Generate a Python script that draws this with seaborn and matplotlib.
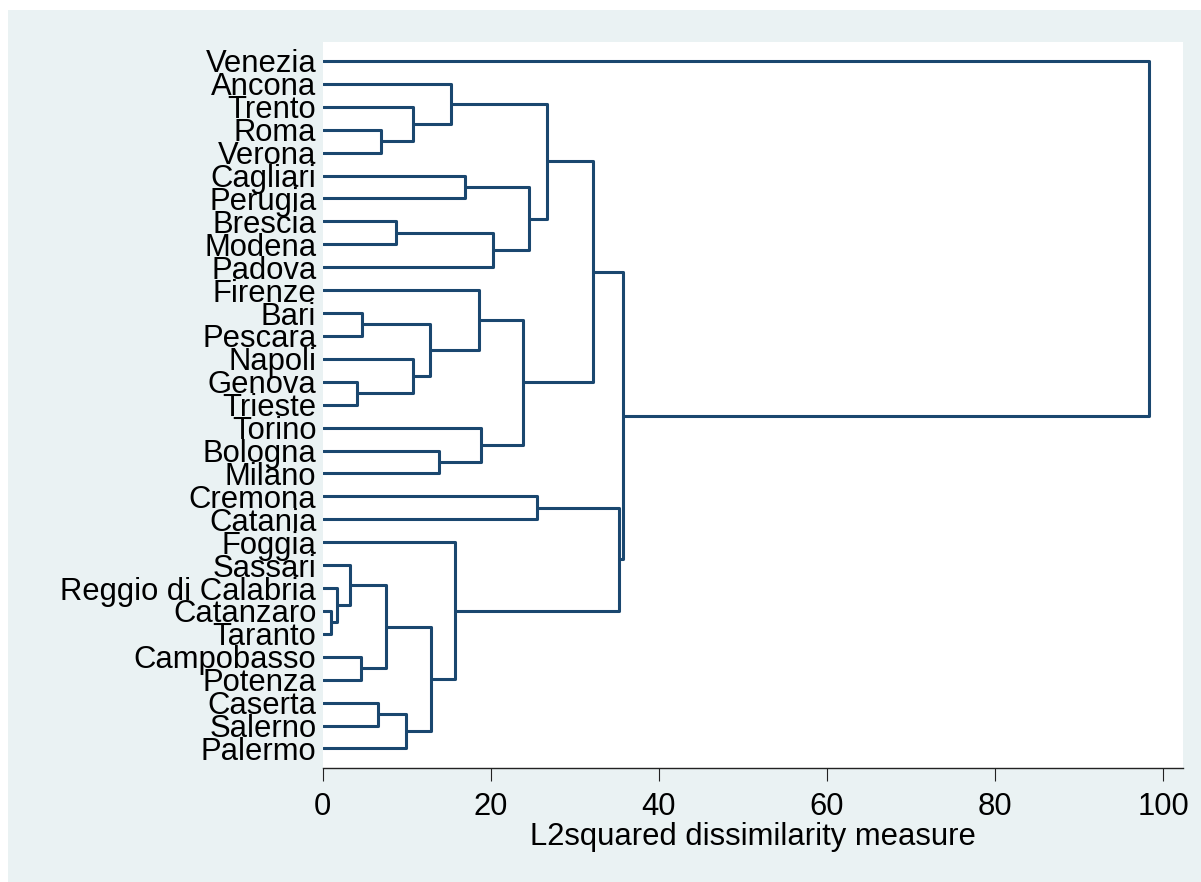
import matplotlib
matplotlib.use('Agg')
import matplotlib.pyplot as plt
from matplotlib.patches import Rectangle
import numpy as np
import pandas as pd
import seaborn as sns

leaves = ['Venezia', 'Ancona', 'Trento', 'Roma', 'Verona', 'Cagliari', 'Perugia',
          'Brescia', 'Modena', 'Padova', 'Firenze', 'Bari', 'Pescara', 'Napoli',
          'Genova', 'Trieste', 'Torino', 'Bologna', 'Milano', 'Cremona', 'Catania',
          'Foggia', 'Sassari', 'Reggio di Calabria', 'Catanzaro', 'Taranto',
          'Campobasso', 'Potenza', 'Caserta', 'Salerno', 'Palermo']

# linkage, scipy style: ids >= 31 are earlier merges (31 + row number)
merge_a = [24, 23, 22, 14, 26, 11, 28, 3, 33, 7, 37, 13, 2, 36, 39,
           17, 1, 21, 5, 10, 16, 40, 50, 49, 19, 47, 56, 55, 57, 0]
merge_b = [25, 31, 32, 15, 27, 12, 29, 4, 35, 8, 30, 34, 38, 42, 41,
           18, 43, 45, 6, 44, 46, 9, 51, 52, 20, 54, 53, 48, 58, 59]
merge_h = [0.96, 1.68, 3.26, 4.09, 4.57, 4.65, 6.56, 6.95, 7.58, 8.77, 9.89, 10.7, 10.8, 12.8, 12.86,
           13.9, 15.3, 15.8, 17.0, 18.6, 18.8, 20.3, 23.8, 24.5, 25.5, 26.7, 32.2, 35.3, 35.8, 98.3]

n = len(leaves)
pos = {i: i + 1 for i in range(n)}
hgt = {i: 0.0 for i in range(n)}
rows = []
for k, (a, b, h) in enumerate(zip(merge_a, merge_b, merge_h)):
    cid = n + k
    pos[cid] = (pos[a] + pos[b]) / 2
    hgt[cid] = h
    for xx, yy in zip([hgt[a], h, h, hgt[b]], [pos[a], pos[a], pos[b], pos[b]]):
        rows.append({'link': k, 'x': xx, 'y': yy})
df = pd.DataFrame(rows)

sns.set_style('white')
plt.rcParams['font.family'] = ['Liberation Sans', 'DejaVu Sans']
plt.rcParams['text.color'] = 'black'
plt.rcParams['axes.labelcolor'] = 'black'
plt.rcParams['xtick.color'] = 'black'
plt.rcParams['ytick.color'] = 'black'

fig = plt.figure(figsize=(12.01, 8.82), dpi=100, facecolor='white')
fig.patches.append(Rectangle((8 / 1201, 0), 1 - 8 / 1201, 1 - 10 / 882, transform=fig.transFigure,
                             facecolor='#eaf2f3', edgecolor='none', zorder=-1))
ax = fig.add_axes([322.6 / 1201, 1 - 767.7 / 882, (1182.7 - 322.6) / 1201, (767.7 - 41.7) / 882])
ax.set_facecolor('white')

sns.lineplot(data=df, x='x', y='y', units='link', estimator=None, sort=False,
             color='#1a476f', linewidth=2.2, ax=ax, legend=False)

ax.set_xlim(0, 102.34)
ax.set_ylim(n + 0.84, 0.16)
ax.set_yticks(range(1, n + 1))
ax.set_yticklabels(leaves, fontsize=22.3)
ax.set_xticks([0, 20, 40, 60, 80, 100])
ax.set_xticklabels(['0', '20', '40', '60', '80', '100'], fontsize=22.3)
ax.tick_params(axis='y', length=0, pad=4.5, labelcolor='black')
ax.tick_params(axis='x', direction='out', length=9.4, width=0.8, color='#222222', pad=8,
               bottom=True, labelcolor='black')
ax.set_xlabel('L2squared dissimilarity measure', fontsize=22.3, labelpad=0, color='black')
ax.set_ylabel('')
for s in ['top', 'right', 'left']:
    ax.spines[s].set_visible(False)
ax.spines['bottom'].set_color('#222222')
ax.spines['bottom'].set_linewidth(1.0)

fig.savefig('out.png', dpi=100, facecolor=fig.get_facecolor())
